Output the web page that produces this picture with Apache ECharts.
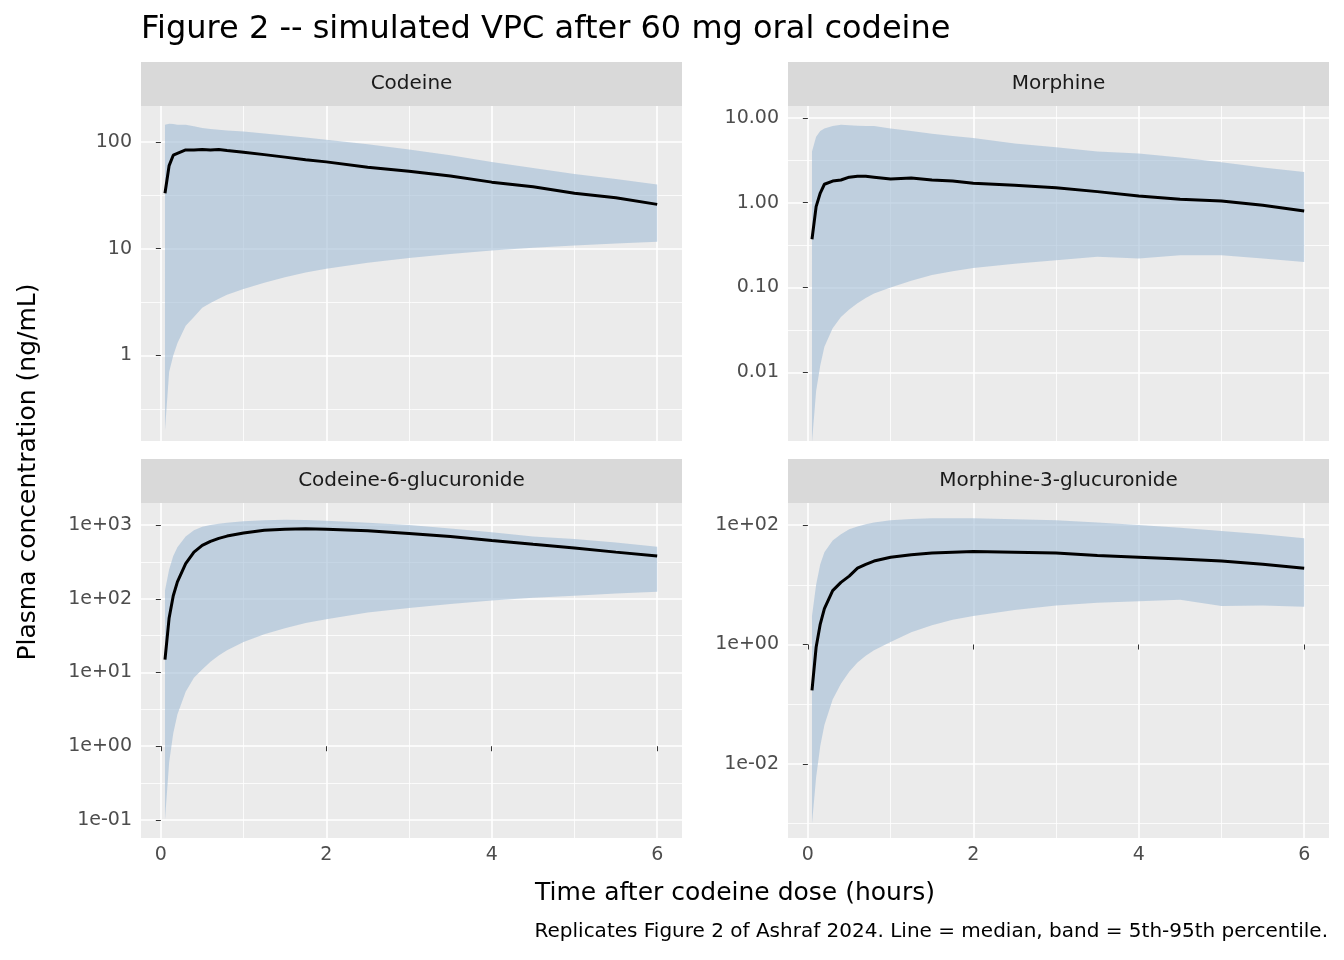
<!DOCTYPE html>
<html>
<head>
<meta charset="utf-8">
<script src="https://cdn.jsdelivr.net/npm/echarts@6/dist/echarts.min.js"></script>
<style>html,body{margin:0;background:#fff}#c{width:1344px;height:960px}</style>
</head>
<body>
<div id="c"></div>
<script>
var times = [0.05,0.1,0.15,0.2,0.3,0.4,0.5,0.6,0.7,0.8,1,1.25,1.5,1.75,2,2.5,3,3.5,4,4.5,5,5.5,6];

var codMed = [33,60,75,78,84,84,85,84,85,83,80,76,72,68,65,58,53,48,42,38,33,30,26];
var codHi  = [145,148,147,145,145,140,135,132,130,128,125,120,115,110,105,95,85,75,65,57,50,45,40];
var codLo  = [0.2,0.7,1.0,1.3,1.9,2.3,2.8,3.1,3.4,3.7,4.2,4.8,5.4,6,6.5,7.4,8.2,8.9,9.6,10.2,10.7,11.2,11.6];

var morMed = [0.37,0.9,1.3,1.65,1.8,1.85,2.0,2.05,2.05,2.0,1.9,1.95,1.85,1.8,1.7,1.6,1.5,1.35,1.2,1.1,1.05,0.93,0.8];
var morHi  = [4,6,7,7.5,8,8.3,8.2,8.1,8.0,8.0,7.5,7,6.5,6.1,5.8,5,4.5,4,3.8,3.4,3,2.6,2.3];
var morLo  = [0.0015,0.006,0.012,0.02,0.033,0.045,0.055,0.065,0.075,0.085,0.1,0.12,0.14,0.155,0.17,0.19,0.21,0.23,0.22,0.24,0.24,0.22,0.2];

var c6gMed = [15,55,110,170,300,430,530,600,660,710,780,850,880,890,880,840,770,700,620,550,490,430,380];
var c6gHi  = [130,250,380,500,700,850,950,1000,1040,1080,1130,1160,1180,1170,1150,1080,1000,900,800,700,650,580,510];
var c6gLo  = [0.1,0.6,1.5,2.7,5.5,8.5,11,14,17,20,26,33,40,47,53,65,75,85,95,103,110,118,125];

var m3gMed = [0.17,0.9,2.2,4,8,11,14,19,22,25,29,32,34,35,36,35,34,31,29,27,25,22,19];
var m3gHi  = [3,10,22,35,55,70,85,95,103,110,120,126,130,130,130,125,120,110,100,90,80,70,60];
var m3gLo  = [0.001,0.006,0.02,0.045,0.12,0.22,0.35,0.5,0.65,0.8,1.1,1.6,2.1,2.6,3,3.8,4.5,5.0,5.3,5.6,4.4,4.5,4.3];

var xMajor = [0,2,4,6];
var xMinor = [1,3,5];

var sci = function(v){return '1e' + (v<0?'-':'+') + ('0'+Math.abs(v)).slice(-2);};
var panels = [
  {name:'Codeine', left:141, top:106, ymin:-0.8, ymax:2.336, major:[0,1,2], minor:[-0.5,0.5,1.5],
   fmt:function(v){return String(Math.round(Math.pow(10,v)));}, med:codMed, hi:codHi, lo:codLo, xlab:false},
  {name:'Morphine', left:788, top:106, ymin:-2.81, ymax:1.14, major:[-2,-1,0,1], minor:[-1.5,-0.5,0.5],
   fmt:function(v){return Math.pow(10,v).toFixed(2);}, med:morMed, hi:morHi, lo:morLo, xlab:false},
  {name:'Codeine-6-glucuronide', left:141, top:503, ymin:-1.245, ymax:3.30, major:[-1,0,1,2,3], minor:[-0.5,0.5,1.5,2.5],
   fmt:sci, med:c6gMed, hi:c6gHi, lo:c6gLo, xlab:true},
  {name:'Morphine-3-glucuronide', left:788, top:503, ymin:-3.24, ymax:2.37, major:[-2,0,2], minor:[-3,-1,1],
   fmt:sci, med:m3gMed, hi:m3gHi, lo:m3gLo, xlab:true}
];

var W = 541, H = 335;
var FF = '"DejaVu Sans"';
var grid = [], xAxis = [], yAxis = [], series = [], graphic = [];
var lg = function(v){return Math.log10(v);};

panels.forEach(function(p, i){
  grid.push({left:p.left, top:p.top, width:W, height:H, backgroundColor:'#ebebeb', show:true, borderWidth:0});
  // minor grid axes
  xAxis.push({gridIndex:i, type:'value', position:'bottom', min:-0.24, max:6.30, axisLine:{show:false}, axisLabel:{show:false},
    axisTick:{show:false, customValues:xMinor}, splitLine:{show:true, lineStyle:{color:'#fff', width:0.8}}});
  yAxis.push({gridIndex:i, type:'value', position:'left', min:p.ymin, max:p.ymax, axisLine:{show:false}, axisLabel:{show:false},
    axisTick:{show:false, customValues:p.minor}, splitLine:{show:true, lineStyle:{color:'#fff', width:0.8}}});
  // major axes
  xAxis.push({gridIndex:i, type:'value', position:'bottom', min:-0.24, max:6.30, axisLine:{show:false},
    axisLabel:{show:p.xlab, customValues:xMajor, color:'#4d4d4d', fontSize:19, fontFamily:FF, margin:8, formatter:function(v){return String(v);}},
    axisTick:{show:p.xlab, customValues:xMajor, length:5, lineStyle:{color:'#333'}},
    splitLine:{show:true, lineStyle:{color:'#fff', width:1.6}}});
  yAxis.push({gridIndex:i, type:'value', position:'left', min:p.ymin, max:p.ymax, axisLine:{show:false},
    axisLabel:{customValues:p.major, color:'#4d4d4d', fontSize:19, fontFamily:FF, margin:9, formatter:p.fmt},
    axisTick:{show:true, customValues:p.major, length:5, lineStyle:{color:'#333'}},
    splitLine:{show:true, lineStyle:{color:'#fff', width:1.6}}});
  var xi = 2*i+1, yi = 2*i+1;
  series.push({type:'custom', xAxisIndex:xi, yAxisIndex:yi, silent:true, clip:true, data:[[0, 0]],
    renderItem:function(params, api){
      var pts = [];
      times.forEach(function(t,k){ pts.push(api.coord([t, lg(p.hi[k])])); });
      for (var k = times.length-1; k >= 0; k--) pts.push(api.coord([times[k], lg(p.lo[k])]));
      return {type:'polygon', shape:{points:pts}, style:{fill:'rgba(162,188,214,0.6)'}};
    }});
  series.push({type:'line', xAxisIndex:xi, yAxisIndex:yi, symbol:'none', lineStyle:{color:'#000', width:3},
    data:times.map(function(t,k){return [t, lg(p.med[k])];})});
  graphic.push({type:'rect', shape:{x:p.left, y:p.top-44, width:W, height:44}, style:{fill:'#d9d9d9'}});
  graphic.push({type:'text', x:p.left+W/2, y:p.top-22, style:{text:p.name, fill:'#1a1a1a', fontSize:20, fontFamily:FF, align:'center', verticalAlign:'middle'}});
});

graphic.push({type:'text', x:141, y:30, style:{text:'Figure 2 -- simulated VPC after 60 mg oral codeine', fill:'#000', fontSize:32, fontFamily:FF, verticalAlign:'middle'}});
graphic.push({type:'text', x:735, y:893, style:{text:'Time after codeine dose (hours)', fill:'#000', fontSize:25, fontFamily:FF, align:'center', verticalAlign:'middle'}});
graphic.push({type:'text', x:1328, y:932, style:{text:'Replicates Figure 2 of Ashraf 2024. Line = median, band = 5th-95th percentile.', fill:'#000', fontSize:20, fontFamily:FF, align:'right', verticalAlign:'middle'}});
graphic.push({type:'text', x:28, y:472, rotation:Math.PI/2, style:{text:'Plasma concentration (ng/mL)', fill:'#000', fontSize:25, fontFamily:FF, align:'center', verticalAlign:'middle'}});

var chart = echarts.init(document.getElementById('c'));
chart.setOption({
  animation:false,
  textStyle:{fontFamily:'DejaVu Sans'},
  grid:grid, xAxis:xAxis, yAxis:yAxis, series:series, graphic:graphic
});
</script>
</body>
</html>
